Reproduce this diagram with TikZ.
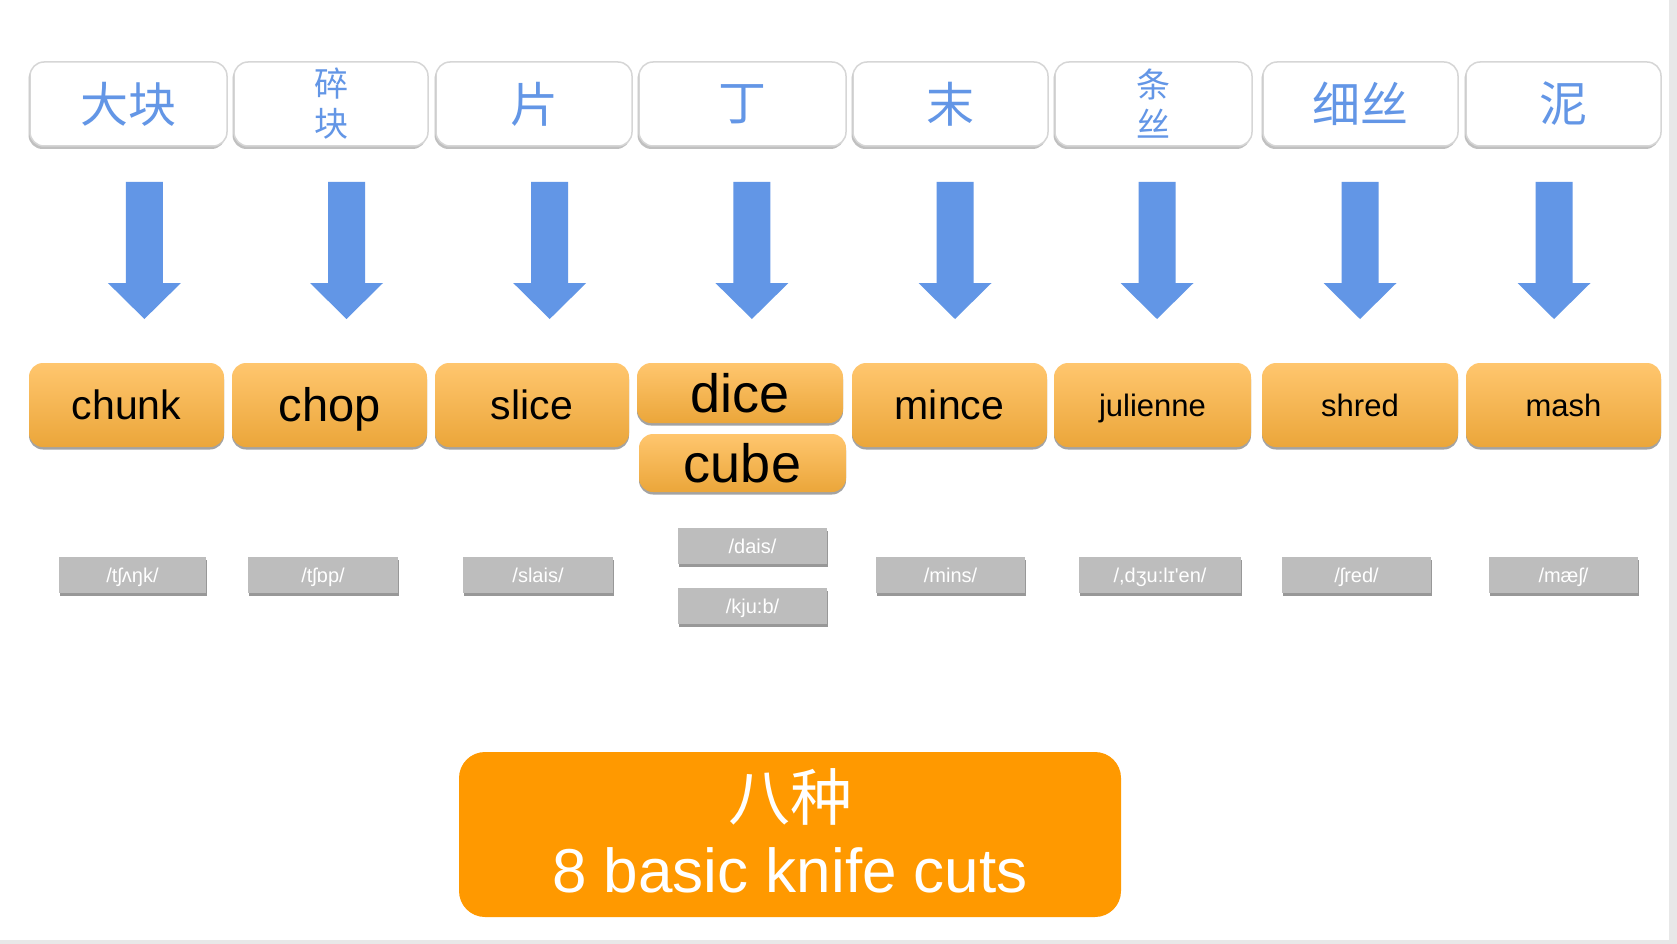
\documentclass[tikz,border=0pt]{standalone}
\usepackage{fontspec}
\setmainfont{Liberation Sans}
\newfontfamily\cjk{Noto Sans CJK SC}
\newfontfamily\ipa{Liberation Sans}
\usetikzlibrary{shadows}
\definecolor{cnblue}{RGB}{99,150,230}
\definecolor{arrowblue}{RGB}{98,150,230}
\definecolor{orgtop}{RGB}{255,198,110}
\definecolor{orgbot}{RGB}{235,166,58}
\definecolor{greybox}{RGB}{189,189,189}
\definecolor{bigorange}{RGB}{255,153,0}
\definecolor{edgegrey}{RGB}{232,232,232}
\begin{document}
\begin{tikzpicture}[x=1pt,y=-1pt,
  topbox/.style={draw=black!16, line width=1.5pt, fill=white, rounded corners=14pt,
    minimum height=84pt, inner sep=0pt, text=cnblue, align=center,
    font=\cjk\fontsize{48}{48}\selectfont,
    drop shadow={shadow xshift=-1.5pt, shadow yshift=-3pt, opacity=0.35, fill=black!70}},
  smallcn/.style={font=\cjk\fontsize{34}{40}\selectfont},
  cutbox/.style={rounded corners=14pt, top color=orgtop, bottom color=orgbot,
    minimum height=84pt, inner sep=0pt, text=black,
    drop shadow={shadow xshift=0pt, shadow yshift=-2.5pt, opacity=0.45, fill=black!80}},
  fA/.style={font=\fontsize{41}{41}\selectfont, text height=29.4pt, text depth=0pt},
  fB/.style={font=\fontsize{47}{47}\selectfont, text height=33.7pt, text depth=0pt},
  fC/.style={font=\fontsize{54}{54}\selectfont, text height=38.7pt, text depth=0pt},
  fD/.style={font=\fontsize{31}{31}\selectfont, text height=22.2pt, text depth=0pt},
  ipabox/.style={fill=greybox, minimum width=149pt, minimum height=36pt, inner sep=0pt,
    text=white, font=\ipa\fontsize{20}{20}\selectfont, text height=14.3pt, text depth=0pt,
    drop shadow={shadow xshift=1pt, shadow yshift=-2.5pt, opacity=0.5, fill=black!80}},
  bigbox/.style={fill=bigorange, rounded corners=26pt, minimum width=662pt,
    minimum height=165pt, inner sep=0pt, text=white, align=center,
    font=\fontsize{62}{72}\selectfont, text depth=8pt},
  downarrow/.pic={\fill[arrowblue] (-18.5,0) -- (18.5,0) -- (18.5,101) -- (36.5,101)
    -- (0,137) -- (-36.5,101) -- (-18.5,101) -- cycle;}
]
\useasboundingbox (0,0) rectangle (1677,944);
\fill[white] (0,0) rectangle (1677,944);
\fill[edgegrey] (1669,0) rectangle (1677,944);
\fill[edgegrey] (0,940) rectangle (1677,944);

% top Chinese boxes
\node[topbox, minimum width=197pt] (t1) at (128.5,104) {大块};
\node[topbox, minimum width=194pt, smallcn] (t2) at (331,104) {碎\\块};
\node[topbox, minimum width=196pt] (t3) at (534,104) {片};
\node[topbox, minimum width=207pt] (t4) at (742.5,104) {丁};
\node[topbox, minimum width=195pt] (t5) at (950.5,104) {末};
\node[topbox, minimum width=197pt, smallcn] (t6) at (1153.5,104) {条\\丝};
\node[topbox, minimum width=195pt] (t7) at (1360.5,104) {细丝};
\node[topbox, minimum width=195pt] (t8) at (1563.5,104) {泥};

% arrows
\pic at (144.4,182) {downarrow};
\pic at (346.5,182) {downarrow};
\pic at (549.7,182) {downarrow};
\pic at (751.9,182) {downarrow};
\pic at (955,182) {downarrow};
\pic at (1157,182) {downarrow};
\pic at (1360,182) {downarrow};
\pic at (1554,182) {downarrow};

% orange cut boxes
\node[cutbox, fA, minimum width=195pt] (chunk) at (126.5,405) {chunk};
\node[cutbox, fB, minimum width=195pt] (chop) at (329.5,405) {chop};
\node[cutbox, fA, minimum width=194pt] (slice) at (532,405) {slice};
\node[cutbox, fC, minimum width=206pt, minimum height=60pt] (dice) at (740,393) {dice};
\node[cutbox, fC, minimum width=207pt, minimum height=58pt] (cube) at (742.5,463) {cube};
\node[cutbox, fA, minimum width=195pt] (mince) at (949.5,405) {mince};
\node[cutbox, fD, minimum width=197pt] (julienne) at (1152.5,405) {julienne};
\node[cutbox, fD, minimum width=196pt] (shred) at (1360,405) {shred};
\node[cutbox, fD, minimum width=195pt] (mash) at (1563.5,405) {mash};

% pronunciation boxes
\node[ipabox, minimum width=147pt] (p1) at (132.5,575) {/tʃʌŋk/};
\node[ipabox, minimum width=150pt] (p2) at (323,575) {/tʃɒp/};
\node[ipabox, minimum width=150pt] (p3) at (538,575) {/slais/};
\node[ipabox] (p4) at (752.5,546) {/dais/};
\node[ipabox] (p5) at (752.5,606) {/kju:b/};
\node[ipabox] (p6) at (950.5,575) {/mins/};
\node[ipabox, minimum width=162pt] (p7) at (1160,575) {/,dʒu:lɪ'en/};
\node[ipabox] (p8) at (1356.5,575) {/ʃred/};
\node[ipabox] (p9) at (1563.5,575) {/mæʃ/};

% bottom title
\node[bigbox] (title) at (790,834.5) {{\cjk 八种}\\8 basic knife cuts};
\end{tikzpicture}
\end{document}
